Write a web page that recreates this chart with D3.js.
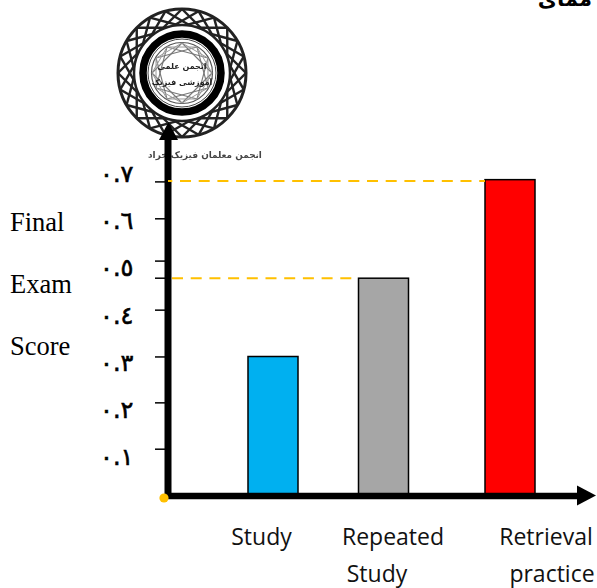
<!DOCTYPE html>
<html>
<head>
<meta charset="utf-8">
<script src="https://cdn.jsdelivr.net/npm/d3@7"></script>
<style>
  html, body { margin: 0; padding: 0; background: #fff; }
  svg { display: block; }
</style>
</head>
<body>
<svg width="597" height="588"></svg>
<script>
// Data
const categories = ["Study", "Repeated Study", "Retrieval practice"];
const scores = [0.31, 0.484, 0.703];
const barColors = ["#00b0f0", "#a6a6a6", "#ff0000"];
const tickValues = [0.104, 0.207, 0.309, 0.413, 0.484, 0.522, 0.616, 0.698];
const tickLabels = ["٠.١", "٠.٢", "٠.٣", "٠.٤", "٠.٥", "٠.٦", "٠.٧"];
const labelValues = [0.1, 0.2, 0.3, 0.4, 0.5, 0.6, 0.7];
const yTitle = ["Final", "Exam", "Score"];
const guideValues = [0.7, 0.484];
const guideEnds = ["Retrieval practice", "Repeated Study"];

const svg = d3.select("svg");

const y = d3.scaleLinear().domain([0, 0.7]).range([496, 181]);
const labelY = d3.scaleLinear().domain([0.1, 0.7]).range([458, 175]);
const x = d3.scaleOrdinal().domain(categories).range([273, 383.5, 510]);
const barWidth = 50;
const originX = 168;

// Soft blur, the logo is a scanned picture
svg.append("defs").append("filter")
  .attr("id", "soft")
  .append("feGaussianBlur")
  .attr("stdDeviation", 0.6);

// Chords between points on a circle, used for the woven bands of the logo
function chords(g, n, r, step, color, w) {
  d3.range(n).forEach(i => {
    const a = i * 2 * Math.PI / n, b = (i + step) * 2 * Math.PI / n;
    g.append("line")
      .attr("x1", r * Math.cos(a)).attr("y1", r * Math.sin(a))
      .attr("x2", r * Math.cos(b)).attr("y2", r * Math.sin(b))
      .attr("stroke", color)
      .attr("stroke-width", w);
  });
}

const logo = svg.append("g")
  .attr("transform", "translate(182,73)")
  .attr("filter", "url(#soft)");
logo.append("circle").attr("r", 64).attr("fill", "#fff").attr("stroke", "#222").attr("stroke-width", 3);
chords(logo, 24, 64, 6, "#222", 2.4);
logo.append("circle").attr("r", 48).attr("fill", "#fff").attr("stroke", "#222").attr("stroke-width", 2.5);
logo.append("circle").attr("r", 39).attr("fill", "none").attr("stroke", "#000").attr("stroke-width", 7.5);
logo.append("circle").attr("r", 34).attr("fill", "#fff").attr("stroke", "#444").attr("stroke-width", 1);
logo.append("circle").attr("r", 30.5).attr("fill", "none").attr("stroke", "#555").attr("stroke-width", 1.2);
chords(logo, 12, 30, 3, "#777", 1.1);
chords(logo, 12, 30, 2, "#999", 1);
logo.selectAll("text")
  .data(["انجمن علمی", "آموزشی فیزیک"])
  .join("text")
  .attr("y", (d, i) => -4 + i * 16)
  .attr("text-anchor", "middle")
  .attr("font-family", "DejaVu Sans")
  .attr("font-size", 8)
  .attr("font-weight", "bold")
  .attr("fill", "#222")
  .text(d => d);

svg.append("text")
  .attr("x", 205)
  .attr("y", 158)
  .attr("text-anchor", "middle")
  .attr("font-family", "DejaVu Sans")
  .attr("font-size", 8.9)
  .attr("font-weight", "bold")
  .attr("fill", "#444")
  .attr("direction", "rtl")
  .attr("filter", "url(#soft)")
  .text("انجمن معلمان فیزیک خراد");

// Heading cut off by the top edge, as in the original
svg.append("text")
  .attr("x", 592)
  .attr("y", 6)
  .attr("text-anchor", "start")
  .attr("font-family", "DejaVu Sans")
  .attr("font-size", 21)
  .attr("font-weight", "bold")
  .attr("direction", "rtl")
  .text("ممای");

// Bars
svg.append("g")
  .selectAll("rect")
  .data(categories)
  .join("rect")
  .attr("x", d => x(d) - barWidth / 2)
  .attr("y", (d, i) => y(scores[i]))
  .attr("width", barWidth)
  .attr("height", (d, i) => y(0) - y(scores[i]))
  .attr("fill", (d, i) => barColors[i])
  .attr("stroke", "#000")
  .attr("stroke-width", 1.5);

// Ticks
svg.append("g")
  .selectAll("line")
  .data(tickValues)
  .join("line")
  .attr("x1", 155)
  .attr("x2", 165)
  .attr("y1", d => y(d))
  .attr("y2", d => y(d))
  .attr("stroke", "#000")
  .attr("stroke-width", 1.5);

// Axes with arrowheads
svg.append("line")
  .attr("x1", originX).attr("x2", originX)
  .attr("y1", y(0) + 3).attr("y2", 135)
  .attr("stroke", "#000").attr("stroke-width", 7);
svg.append("line")
  .attr("x1", originX - 3).attr("x2", 580)
  .attr("y1", y(0)).attr("y2", y(0))
  .attr("stroke", "#000").attr("stroke-width", 6.5);
svg.append("path").attr("d", d3.line()([[168.5, 122], [178, 140], [159, 140]]) + "Z").attr("fill", "#000");
svg.append("path").attr("d", d3.line()([[596, 495.5], [577, 485.5], [577, 505.5]]) + "Z").attr("fill", "#000");

// Dashed guides, on top of the vertical axis
const guideStart = [168, 172];
const guideOffset = [6.7, 0];
svg.append("g")
  .selectAll("line")
  .data(guideValues)
  .join("line")
  .attr("x1", (d, i) => guideStart[i])
  .attr("x2", (d, i) => x(guideEnds[i]) - barWidth / 2)
  .attr("y1", d => y(d))
  .attr("y2", d => y(d))
  .attr("stroke", "#ffc000")
  .attr("stroke-width", 2)
  .attr("stroke-dasharray", "11 7.7")
  .attr("stroke-dashoffset", (d, i) => guideOffset[i]);

svg.append("circle")
  .attr("cx", 164)
  .attr("cy", 498)
  .attr("r", 4.6)
  .attr("fill", "#ffc000");

// Tick labels in Arabic-Indic digits
svg.append("g")
  .selectAll("text")
  .data(tickLabels)
  .join("text")
  .attr("x", 100)
  .attr("y", (d, i) => labelY(labelValues[i]))
  .attr("dominant-baseline", "middle")
  .attr("font-family", "DejaVu Sans")
  .attr("font-size", 24)
  .attr("letter-spacing", -1.5)
  .attr("stroke", "#000")
  .attr("stroke-width", 0.6)
  .attr("direction", "ltr")
  .text(d => d);

// Axis title, one word per line
svg.append("g")
  .selectAll("text")
  .data(yTitle)
  .join("text")
  .attr("x", 10)
  .attr("y", (d, i) => 230.5 + i * 62)
  .attr("font-family", "Liberation Serif")
  .attr("font-size", 26.5)
  .text(d => d);

// Category labels
const labelLines = [
  { t: "Study", cx: 261.5, by: 545 },
  { t: "Repeated", cx: 393, by: 545 },
  { t: "Study", cx: 377, by: 582 },
  { t: "Retrieval", cx: 546, by: 545 },
  { t: "practice", cx: 552, by: 582 }
];
svg.append("g")
  .selectAll("text")
  .data(labelLines)
  .join("text")
  .attr("x", d => d.cx)
  .attr("y", d => d.by)
  .attr("text-anchor", "middle")
  .attr("font-family", "Open Sans")
  .attr("font-size", 23)
  .attr("fill", "#111")
  .text(d => d.t);
</script>
</body>
</html>
